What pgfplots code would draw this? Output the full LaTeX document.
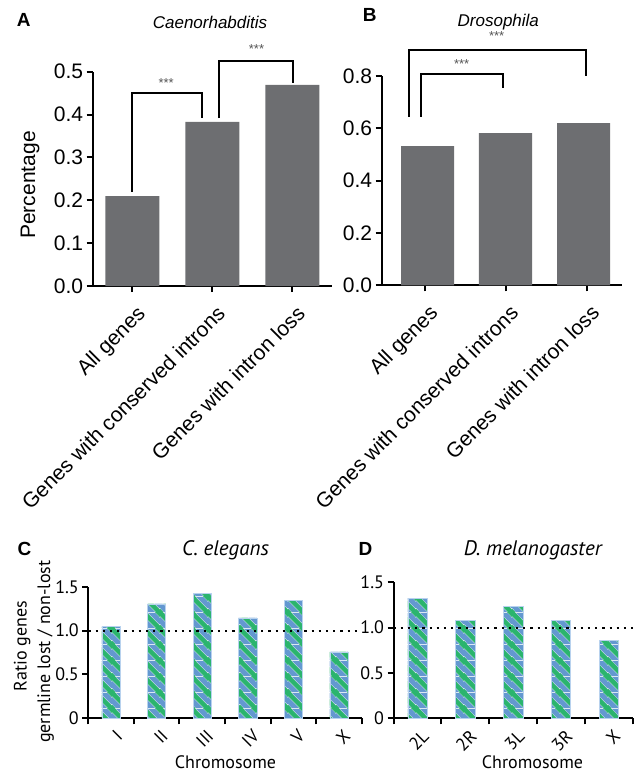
\documentclass[border=0pt]{standalone}
\usepackage{fontspec}
\usepackage{pgfplots}
\pgfplotsset{compat=1.18}
\usetikzlibrary{patterns}
\setmainfont{Liberation Sans}
\newfontfamily\myr{PT Sans}
\definecolor{bargray}{HTML}{6D6E71}
\definecolor{cblue}{HTML}{6398D0}
\definecolor{cgreen}{HTML}{2BB46E}
\definecolor{cedge}{HTML}{B8D2EE}
\definecolor{stargray}{HTML}{555555}
\newcommand{\fA}{\fontsize{21}{25}\selectfont}
\newcommand{\fT}{\fontsize{17}{20}\selectfont}
\newcommand{\fC}{\myr\fontsize{18}{22}\selectfont}
\newcommand{\fCT}{\myr\fontsize{21}{25}\selectfont}
\newcommand{\fS}{\fontsize{13}{14}\selectfont}
\pgfdeclarepatterninherentlycolored{chrstripes}
{\pgfpointorigin}{\pgfpoint{16pt}{16pt}}{\pgfpoint{16pt}{16pt}}
{%
  \pgfsetfillcolor{cblue}%
  \pgfpathrectangle{\pgfpointorigin}{\pgfpoint{16pt}{16pt}}%
  \pgfusepath{fill}%
  \pgfsetstrokecolor{white}%
  \pgfsetlinewidth{5.6pt}%
  \pgfpathmoveto{\pgfpoint{-8pt}{8pt}}\pgfpathlineto{\pgfpoint{8pt}{-8pt}}%
  \pgfpathmoveto{\pgfpoint{-4pt}{20pt}}\pgfpathlineto{\pgfpoint{20pt}{-4pt}}%
  \pgfpathmoveto{\pgfpoint{8pt}{24pt}}\pgfpathlineto{\pgfpoint{24pt}{8pt}}%
  \pgfusepath{stroke}%
  \pgfsetstrokecolor{cgreen}%
  \pgfsetlinewidth{5.0pt}%
  \pgfpathmoveto{\pgfpoint{-8pt}{8pt}}\pgfpathlineto{\pgfpoint{8pt}{-8pt}}%
  \pgfpathmoveto{\pgfpoint{-4pt}{20pt}}\pgfpathlineto{\pgfpoint{20pt}{-4pt}}%
  \pgfpathmoveto{\pgfpoint{8pt}{24pt}}\pgfpathlineto{\pgfpoint{24pt}{8pt}}%
  \pgfusepath{stroke}%
}
\pgfplotsset{
  base/.style={
    scale only axis,
    anchor=south west,
    axis x line*=bottom, axis y line*=left,
    axis line style={line width=2pt, black},
    every tick/.style={line width=2pt, black},
    tick align=outside,
    major tick length=6pt,
    minor tick length=6pt,
    ymin=0,
    clip=false,
  },
  topaxis/.style={
    base,
    tick label style={font=\fA},
    xtick={0,1,2},
    xticklabels={All genes, Genes with conserved introns, Genes with intron loss},
    xticklabel style={font=\fA, inner sep=0pt, xshift=14pt, yshift=-23pt, rotate=45, anchor=base east},
  },
  botaxis/.style={
    base,
    tick label style={font=\fC},
    xticklabel style={rotate=45, anchor=north east, xshift=3pt, yshift=-2pt},
    ytick={0,0.5,1,1.5},
    yticklabels={0,0.5,1.0,1.5},
    ymax=1.5,
    every major x tick/.style={draw=none},
  },
  hatched/.style={
    ybar, bar shift=0pt, bar width=0.4, pattern=chrstripes, draw=none,
    postaction={draw=cedge, line width=0.6pt},
  },
}
\begin{document}
\begin{tikzpicture}
\useasboundingbox (0,0) rectangle (634pt,-772pt);
% ---------------- A
\begin{axis}[topaxis, at={(92.7pt,-286pt)}, width=239pt, height=214.3pt,
  xmin=-0.4975, xmax=2.49, ymax=0.5,
  ytick={0,0.1,0.2,0.3,0.4,0.5}, yticklabels={0.0,0.1,0.2,0.3,0.4,0.5}]
\addplot[ybar, bar width=0.675, bar shift=0pt, fill=bargray, draw=none]
  coordinates {(0,0.21) (1,0.383) (2,0.469)};
\addplot[line width=2pt, black] coordinates {(0,0.22) (0,0.45) (0.869,0.45) (0.869,0.392)};
\addplot[line width=2pt, black] coordinates {(1.081,0.392) (1.081,0.526) (2.006,0.526) (2.006,0.474)};
\node[font=\fS, text=stargray] at (axis cs:0.42,0.474) {***};
\node[font=\fS, text=stargray] at (axis cs:1.55,0.553) {***};
\end{axis}
% ---------------- B
\begin{axis}[topaxis, at={(381.7pt,-285.3pt)}, width=240pt, height=209.3pt,
  xmin=-0.536, xmax=2.434, ymax=0.8,
  ytick={0,0.2,0.4,0.6,0.8}, yticklabels={0.0,0.2,0.4,0.6,0.8}]
\addplot[ybar, bar width=0.656, bar shift=0pt, fill=bargray, draw=none]
  coordinates {(0.031,0.532) (0.996,0.582) (1.962,0.620)};
\addplot[line width=2pt, black] coordinates {(-0.194,0.645) (-0.194,0.9) (1.989,0.9) (1.989,0.8)};
\addplot[line width=2pt, black] coordinates {(-0.05,0.645) (-0.05,0.808) (0.969,0.808) (0.969,0.753)};
\node[font=\fS, text=stargray] at (axis cs:0.887,0.953) {***};
\node[font=\fS, text=stargray] at (axis cs:0.454,0.846) {***};
\end{axis}
% ---------------- C
\begin{axis}[botaxis, at={(88.3pt,-718.3pt)}, width=273.5pt, height=131.6pt,
  xmin=-0.5, xmax=5.5,
  xtick={0,1,2,3,4,5}, xticklabels={I,II,III,IV,V,X},
  minor xtick={-0.5,0.5,1.5,2.5,3.5,4.5,5.5}]
\addplot[hatched] coordinates {(0,1.045) (1,1.303) (2,1.425) (3,1.144) (4,1.345) (5,0.756)};
\addplot[line width=2pt, black, dash pattern=on 2.2pt off 5pt] coordinates {(-0.5,1) (5.5,1)};
\end{axis}
% ---------------- D
\begin{axis}[botaxis, at={(393.5pt,-718.3pt)}, width=239.5pt, height=136pt,
  xmin=-0.5, xmax=4.5,
  xtick={0,1,2,3,4}, xticklabels={2L,2R,3L,3R,X},
  minor xtick={-0.5,0.5,1.5,2.5,3.5,4.5}]
\addplot[hatched] coordinates {(0,1.326) (1,1.08) (2,1.23) (3,1.076) (4,0.863)};
\addplot[line width=2pt, black, dash pattern=on 2.2pt off 5pt] coordinates {(-0.5,1) (4.5,1)};
\end{axis}
% ---------------- text
\node[anchor=base west, font=\fontsize{19}{20}\selectfont\bfseries] at (13.3pt,-26.7pt) {A};
\node[anchor=base west, font=\fontsize{19}{20}\selectfont\bfseries] at (359.3pt,-21.7pt) {B};
\node[anchor=base west, font=\fontsize{19}{20}\selectfont\bfseries] at (14pt,-555pt) {C};
\node[anchor=base west, font=\fontsize{19}{20}\selectfont\bfseries] at (355pt,-555pt) {D};
\node[anchor=base, font=\fT\itshape] at (210pt,-28.3pt) {Caenorhabditis};
\node[anchor=base, font=\fT\itshape] at (498.3pt,-26.7pt) {Drosophila};
\node[anchor=base, font=\fCT\itshape] at (225.5pt,-555pt) {C. elegans};
\node[anchor=base, font=\fCT\itshape] at (532.7pt,-555pt) {D. melanogaster};
\node[anchor=base, rotate=90, font=\fA] at (35pt,-185pt) {Percentage};
\node[anchor=base, rotate=90, font=\fC] at (26.7pt,-646pt) {Ratio genes};
\node[anchor=base, rotate=90, font=\fC] at (50pt,-651.7pt) {germline lost / non-lost};
\node[anchor=base, font=\fC] at (225.5pt,-768pt) {Chromosome};
\node[anchor=base, font=\fC] at (532.5pt,-768pt) {Chromosome};
\end{tikzpicture}
\end{document}
